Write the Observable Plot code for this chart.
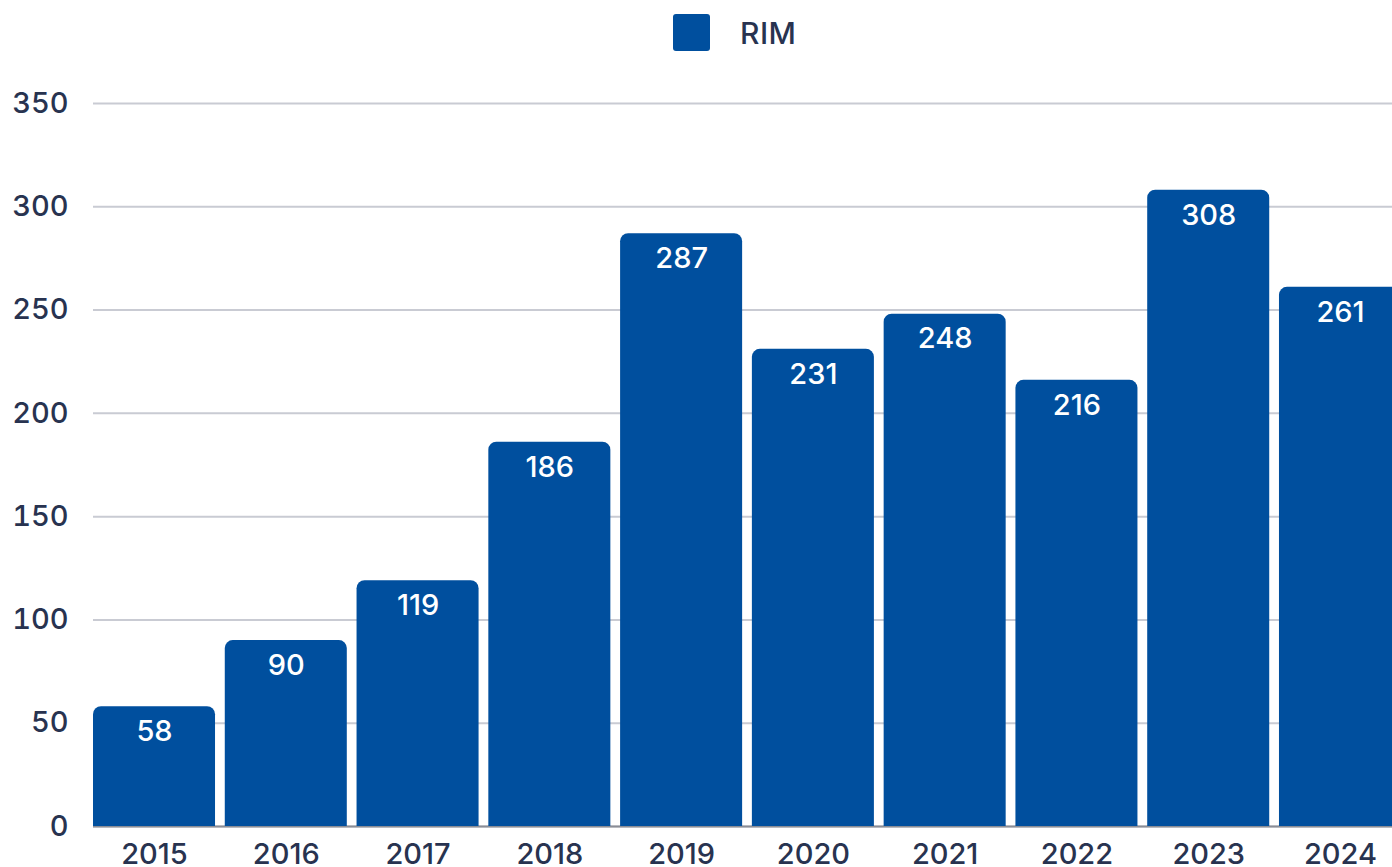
<!DOCTYPE html>
<html>
<head>
<meta charset="utf-8">
<script src="https://cdn.jsdelivr.net/npm/d3@7"></script>
<script src="https://cdn.jsdelivr.net/npm/@observablehq/plot@0.6"></script>
<style>
  html, body { margin: 0; padding: 0; background: #fff; overflow: hidden; width: 1392px; height: 867px; }
  #wrap { position: relative; width: 1392px; height: 867px; overflow: hidden; font-family: Inter, "Noto Sans", sans-serif; }
  #legend { position: absolute; top: 14px; left: 673px; display: flex; align-items: center; height: 37px; }
  #legend .sw { width: 37px; height: 37px; background: #004f9e; border-radius: 3px; }
  #legend .lb { margin-left: 30px; font-size: 30px; font-weight: 500; color: #283350; letter-spacing: 0.5px; }
  #chart { position: absolute; top: 0; left: 0; }
  #chart svg { max-width: none !important; }
</style>
</head>
<body>
<div id="wrap">
  <div id="chart"></div>
  <div id="legend"><div class="sw"></div><div class="lb">RIM</div></div>
</div>
<script>
const seriesName = "RIM";
const years = ["2015","2016","2017","2018","2019","2020","2021","2022","2023","2024"];
const values = [58, 90, 119, 186, 287, 231, 248, 216, 308, 261];
const yTicks = [0, 50, 100, 150, 200, 250, 300, 350];

const data = years.map((year, i) => ({year, value: values[i]}));
const barColor = "#004f9e";
const textColor = "#283350";

const chart = Plot.plot({
  width: 1420,
  height: 900,
  marginTop: 103,
  marginBottom: 74,
  marginLeft: 93,
  marginRight: 19,
  style: { fontFamily: "Inter, 'Noto Sans', sans-serif", fontSize: "29px", fontWeight: 500, color: textColor, background: "transparent", maxWidth: "none" },
  x: { domain: years, paddingInner: 0.074, paddingOuter: 0, round: false, label: null },
  y: { domain: [0, 350], label: null },
  marks: [
    Plot.gridY(yTicks, { stroke: "#c9cbd3", strokeWidth: 2, strokeOpacity: 1 }),
    Plot.ruleY([0], { stroke: "#8a8d96", strokeWidth: 2 }),
    // bottom corners pushed below the baseline and clipped away by the frame
    Plot.barY(data, { x: "year", y1: -10, y2: "value", fill: barColor, rx: 8, insetLeft: 0, insetRight: 0, clip: true }),
    Plot.text(data, { x: "year", y: "value", text: d => String(d.value), fill: "white", dy: 25, fontSize: 29, fontWeight: 500 }),
    Plot.axisY(yTicks, { tickSize: 0, tickPadding: 25, fontSize: 29, fill: textColor, label: null }),
    Plot.axisX({ tickSize: 0, tickPadding: 17, fontSize: 29, fill: textColor, label: null })
  ]
});
document.getElementById("chart").appendChild(chart);
</script>
</body>
</html>
